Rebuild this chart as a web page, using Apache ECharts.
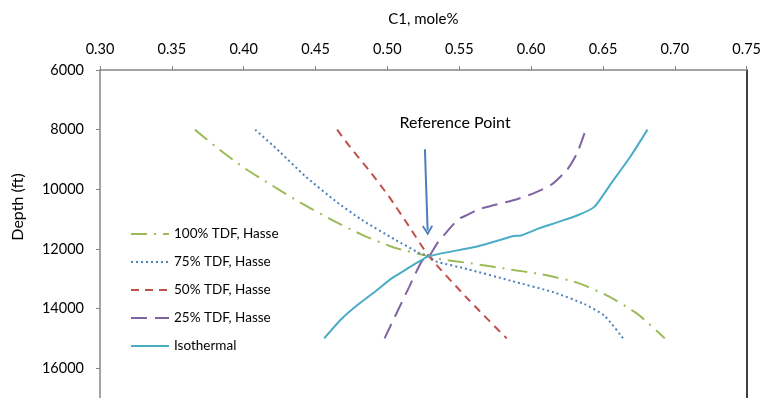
<!DOCTYPE html>
<html>
<head>
<meta charset="utf-8">
<script src="https://cdn.jsdelivr.net/npm/echarts@6/dist/echarts.min.js"></script>
<style>
  html, body { margin: 0; padding: 0; background: #fff; }
  #chart { width: 764px; height: 398px; }
</style>
</head>
<body>
<div id="chart"></div>
<script>
// C1 mole fraction vs depth for four TDF cases and the isothermal profile
const xTicks = [0.30, 0.35, 0.40, 0.45, 0.50, 0.55, 0.60, 0.65, 0.70, 0.75];
const depthTicks = [6000, 8000, 10000, 12000, 14000, 16000];

const seriesNames = ['100% TDF, Hasse', '75% TDF, Hasse', '50% TDF, Hasse', '25% TDF, Hasse', 'Isothermal'];

const tdf100Depth = [8000, 8550, 9240, 9880, 10490, 11040, 11520, 11960, 12250, 12330, 12490, 12680, 12850, 13130, 13570, 14180, 15000];
const tdf100C1    = [0.366, 0.380, 0.399, 0.420, 0.441, 0.462, 0.482, 0.505, 0.529, 0.535, 0.559, 0.584, 0.607, 0.632, 0.653, 0.674, 0.693];

const tdf75Depth = [8000, 8740, 9570, 10400, 11020, 11680, 12130, 12250, 12410, 12680, 13070, 13460, 13850, 14240, 15000];
const tdf75C1    = [0.408, 0.425, 0.443, 0.464, 0.482, 0.505, 0.522, 0.529, 0.533, 0.556, 0.586, 0.616, 0.637, 0.651, 0.664];

const tdf50Depth = [8000, 8520, 9350, 10240, 11240, 12250, 13680, 15000];
const tdf50C1    = [0.465, 0.473, 0.487, 0.501, 0.515, 0.529, 0.556, 0.583];

const tdf25Depth = [15000, 13290, 12410, 12250, 11790, 11020, 10850, 10680, 10460, 10350, 10130, 9850, 9350, 8790, 8000];
const tdf25C1    = [0.498, 0.515, 0.524, 0.529, 0.535, 0.549, 0.556, 0.563, 0.580, 0.589, 0.602, 0.614, 0.625, 0.632, 0.638];

const isoDepth = [15000, 14350, 13850, 13410, 12990, 12630, 12370, 12240, 11910, 11570, 11550, 11320, 11110, 10880, 10590, 9850, 8910, 8000];
const isoC1    = [0.456, 0.468, 0.480, 0.492, 0.503, 0.515, 0.524, 0.529, 0.563, 0.588, 0.593, 0.605, 0.618, 0.632, 0.644, 0.655, 0.669, 0.681];

// Annotation arrow pointing at the common crossing point
const arrowFrom = [0.5261, 8660];
const arrowTo   = [0.5280, 11380];

const pairs = (xs, ys) => xs.map((x, i) => [x, ys[i]]);

const FONT = 'Lato, "Liberation Sans", sans-serif';

const chart = echarts.init(document.getElementById('chart'), null, { renderer: 'canvas' });

function lineSeries(name, data, color, type, extra) {
  return Object.assign({
    name: name,
    type: 'line',
    data: data,
    symbol: 'none',
    smooth: 0.2,
    lineStyle: { color: color, width: 2, type: type },
    itemStyle: { color: color },
    animation: false,
    z: 3
  }, extra || {});
}

chart.setOption({
  backgroundColor: '#ffffff',
  animation: false,
  grid: { left: 100, top: 70, width: 650, height: 330 },
  legend: {
    orient: 'vertical',
    left: 125,
    top: 222,
    itemWidth: 38,
    itemHeight: 14,
    itemGap: 14,
    itemStyle: { opacity: 0 },
    textStyle: { fontFamily: FONT, fontSize: 13.5, color: '#000' },
    data: seriesNames
  },
  xAxis: {
    type: 'value',
    position: 'top',
    min: 0.30,
    max: 0.75,
    interval: 0.05,
    name: 'C1, mole%',
    nameLocation: 'middle',
    nameGap: 43,
    nameTextStyle: { fontFamily: FONT, fontSize: 15, color: '#000' },
    axisLine: { show: true, lineStyle: { color: '#868686', width: 1.5 } },
    axisTick: { show: true, length: 4, lineStyle: { color: '#868686' } },
    axisLabel: {
      fontFamily: FONT, fontSize: 14.5, color: '#000', margin: 13,
      formatter: v => v.toFixed(2)
    },
    splitLine: { show: false }
  },
  yAxis: [{
    type: 'value',
    inverse: true,
    min: 6000,
    max: 17000,
    interval: 2000,
    axisLine: { show: true, lineStyle: { color: '#868686', width: 1.5 } },
    axisTick: { show: true, length: 4, lineStyle: { color: '#868686' } },
    axisLabel: {
      fontFamily: FONT, fontSize: 14.5, color: '#000', margin: 16,
      showMaxLabel: false,
      formatter: v => (depthTicks.indexOf(v) >= 0 ? String(v) : '')
    },
    splitLine: { show: false }
  }, {
    type: 'value',
    position: 'right',
    inverse: true,
    min: 6000,
    max: 17000,
    axisLine: { show: true, onZero: false, lineStyle: { color: '#000', width: 1.5 } },
    axisTick: { show: false },
    axisLabel: { show: false },
    splitLine: { show: false }
  }],
  graphic: [{
    type: 'text',
    x: 18,
    y: 207,
    rotation: Math.PI / 2,
    style: {
      text: 'Depth (ft)',
      fontFamily: FONT, fontSize: 16, fill: '#000',
      align: 'center', verticalAlign: 'middle'
    }
  }, {
    type: 'text',
    x: 455,
    y: 123,
    style: {
      text: 'Reference Point',
      fontFamily: FONT, fontSize: 16, fill: '#000',
      align: 'center', verticalAlign: 'middle'
    }
  }],
  series: [
    lineSeries(seriesNames[0], pairs(tdf100C1, tdf100Depth), '#9bbb59', [16, 7, 2, 7]),
    lineSeries(seriesNames[1], pairs(tdf75C1, tdf75Depth), '#4f81bd', [2, 3]),
    lineSeries(seriesNames[2], pairs(tdf50C1, tdf50Depth), '#c0504d', [8, 6]),
    lineSeries(seriesNames[3], pairs(tdf25C1, tdf25Depth), '#8064a2', [16, 8]),
    lineSeries(seriesNames[4], pairs(isoC1, isoDepth), '#4bacc6', 'solid', {
      markLine: {
        silent: true,
        animation: false,
        symbol: ['none', 'path://M5,0 L10,9 L8.6,10 L5,3.4 L1.4,10 L0,9 Z'],
        symbolSize: [11, 10],
        label: { show: false },
        lineStyle: { color: '#4a7ebb', width: 2, type: 'solid' },
        data: [[{ coord: arrowFrom }, { coord: arrowTo }]]
      }
    })
  ]
});
</script>
</body>
</html>
